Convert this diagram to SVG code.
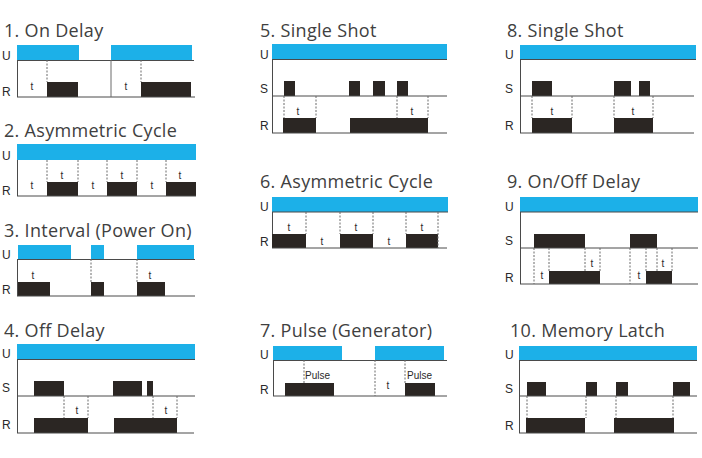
<svg xmlns="http://www.w3.org/2000/svg" width="702" height="458" viewBox="0 0 702 458">
<style>
.u{fill:#1cb0e8}
.b{fill:#2b2623}
.ax{stroke:#4a4a4a;stroke-width:1;fill:none}
.v{stroke:#6a6a6a;stroke-width:1;fill:none}
.d{stroke:#6a6a6a;stroke-width:1;stroke-dasharray:2 1.5;fill:none}
.ttl{font-family:"Open Sans","Noto Sans",sans-serif;font-size:18px;letter-spacing:0.3px;fill:#404040}
.lbl{font-family:"Liberation Sans",Arial,sans-serif;font-size:12px;fill:#2a2a2a}
.t{font-family:"Liberation Sans",Arial,sans-serif;font-size:10px;fill:#2a2a2a;text-anchor:middle}
.p{font-family:"Liberation Sans",Arial,sans-serif;font-size:10px;fill:#2a2a2a}
</style>
<rect width="702" height="458" fill="#fff"/>

<g id="p1">
<text class="ttl" x="4" y="37">1. On Delay</text>
<text class="lbl" x="2" y="60">U</text>
<text class="lbl" x="2" y="96">R</text>
<rect class="u" x="17" y="45" width="62" height="15"/>
<rect class="u" x="111" y="45" width="81" height="15"/>
<rect class="b" x="47" y="82" width="31" height="15"/>
<rect class="b" x="141" y="82" width="50" height="15"/>
<path class="ax" d="M17 60.5H194M17 97H195M17.5 60V97"/>
<path class="v" d="M111 60V97"/>
<path class="d" d="M47 60V82M141 60V82"/>
<text class="t" x="32" y="90">t</text>
<text class="t" x="126" y="90">t</text>
</g>

<g id="p2">
<text class="ttl" x="4" y="137">2. Asymmetric Cycle</text>
<text class="lbl" x="2" y="160">U</text>
<text class="lbl" x="2" y="195">R</text>
<rect class="u" x="17" y="144" width="179" height="16"/>
<rect class="b" x="47" y="182" width="31" height="14"/>
<rect class="b" x="107" y="182" width="30" height="14"/>
<rect class="b" x="166" y="182" width="30" height="14"/>
<path class="ax" d="M17 196H196M17.5 160V196"/>
<path class="d" d="M47 160V182M78 160V182M107 160V182M137 160V182M166 160V182"/>
<text class="t" x="32" y="189">t</text>
<text class="t" x="93" y="189">t</text>
<text class="t" x="152" y="189">t</text>
<text class="t" x="62" y="179">t</text>
<text class="t" x="122" y="179">t</text>
<text class="t" x="180" y="179">t</text>
</g>

<g id="p3">
<text class="ttl" x="4" y="237">3. Interval (Power On)</text>
<text class="lbl" x="2" y="259">U</text>
<text class="lbl" x="2" y="294">R</text>
<rect class="u" x="18" y="245" width="53" height="14"/>
<rect class="u" x="91" y="245" width="13" height="14"/>
<rect class="u" x="137" y="245" width="57" height="14"/>
<rect class="b" x="18" y="282" width="32" height="14"/>
<rect class="b" x="91" y="282" width="13" height="14"/>
<rect class="b" x="137" y="282" width="28" height="14"/>
<path class="ax" d="M17 259.5H195M17 296H195M17.5 259V296"/>
<path class="d" d="M91 259V282M137 259V282"/>
<text class="t" x="33" y="279">t</text>
<text class="t" x="150" y="279">t</text>
</g>

<g id="p4">
<text class="ttl" x="4" y="337">4. Off Delay</text>
<text class="lbl" x="2" y="358">U</text>
<text class="lbl" x="2" y="392">S</text>
<text class="lbl" x="2" y="429">R</text>
<rect class="u" x="17" y="344" width="178" height="15"/>
<rect class="b" x="34" y="381" width="30" height="15"/>
<rect class="b" x="113" y="381" width="29" height="15"/>
<rect class="b" x="147" y="381" width="6" height="15"/>
<rect class="b" x="34" y="418" width="54" height="15"/>
<rect class="b" x="114" y="418" width="63" height="15"/>
<path class="ax" d="M17 359.5H195M17 396H195M17 433H194M17.5 359V433"/>
<path class="d" d="M64 396V418M88 396V418M153 396V418M177 396V418"/>
<text class="t" x="77" y="414">t</text>
<text class="t" x="166" y="414">t</text>
</g>

<g id="p5">
<text class="ttl" x="260" y="37">5. Single Shot</text>
<text class="lbl" x="260" y="59">U</text>
<text class="lbl" x="260" y="93">S</text>
<text class="lbl" x="260" y="130">R</text>
<rect class="u" x="272" y="44" width="175" height="15"/>
<rect class="b" x="284" y="81" width="11" height="15"/>
<rect class="b" x="349" y="81" width="11" height="15"/>
<rect class="b" x="373" y="81" width="12" height="15"/>
<rect class="b" x="397" y="81" width="11" height="15"/>
<rect class="b" x="283" y="118" width="33" height="15"/>
<rect class="b" x="350" y="118" width="78" height="15"/>
<path class="ax" d="M272 59.5H447M272 96H447M272 133H447M272.5 59V133"/>
<path class="d" d="M284 96V118M316 96V118M397 96V118M428 96V118"/>
<text class="t" x="298" y="115">t</text>
<text class="t" x="412" y="115">t</text>
</g>

<g id="p6">
<text class="ttl" x="260" y="188">6. Asymmetric Cycle</text>
<text class="lbl" x="260" y="211">U</text>
<text class="lbl" x="260" y="246">R</text>
<rect class="u" x="272" y="197" width="176" height="15"/>
<rect class="b" x="272" y="234" width="34" height="14"/>
<rect class="b" x="340" y="234" width="33" height="14"/>
<rect class="b" x="406" y="234" width="32" height="14"/>
<path class="ax" d="M272 212H448M272 248H447M272.5 212V234"/>
<path class="d" d="M306 212V234M340 212V234M373 212V234M406 212V234M438 212V248"/>
<text class="t" x="289" y="231">t</text>
<text class="t" x="356" y="231">t</text>
<text class="t" x="422" y="231">t</text>
<text class="t" x="322" y="245">t</text>
<text class="t" x="389" y="245">t</text>
</g>

<g id="p7">
<text class="ttl" x="260" y="337">7. Pulse (Generator)</text>
<text class="lbl" x="260" y="359">U</text>
<text class="lbl" x="260" y="394">R</text>
<rect class="u" x="273" y="346" width="69" height="14"/>
<rect class="u" x="375" y="346" width="69" height="14"/>
<rect class="b" x="285" y="383" width="49" height="13"/>
<rect class="b" x="405" y="383" width="30" height="13"/>
<path class="ax" d="M273 360.5H447M273 396H447M273.5 360V396"/>
<path class="d" d="M304 360V383M375 360V396M405 360V383"/>
<text class="p" x="305" y="379">Pulse</text>
<text class="p" x="407" y="379">Pulse</text>
<text class="t" x="388" y="389">t</text>
</g>

<g id="p8">
<text class="ttl" x="507" y="37">8. Single Shot</text>
<text class="lbl" x="505" y="59">U</text>
<text class="lbl" x="505" y="93">S</text>
<text class="lbl" x="505" y="130">R</text>
<rect class="u" x="520" y="45" width="176" height="14"/>
<rect class="b" x="532" y="81" width="20" height="15"/>
<rect class="b" x="614" y="81" width="17" height="15"/>
<rect class="b" x="639" y="81" width="11" height="15"/>
<rect class="b" x="532" y="118" width="40" height="15"/>
<rect class="b" x="614" y="118" width="39" height="15"/>
<path class="ax" d="M520 59.5H696M520 96H694M520 133H694M520.5 59V133"/>
<path class="d" d="M532 96V118M572 96V118M614 96V118M653 96V118"/>
<text class="t" x="552" y="115">t</text>
<text class="t" x="633" y="115">t</text>
</g>

<g id="p9">
<text class="ttl" x="507" y="188">9. On/Off Delay</text>
<text class="lbl" x="505" y="211">U</text>
<text class="lbl" x="505" y="245">S</text>
<text class="lbl" x="505" y="282">R</text>
<rect class="u" x="520" y="197" width="178" height="15"/>
<rect class="b" x="534" y="234" width="51" height="14"/>
<rect class="b" x="630" y="234" width="27" height="14"/>
<rect class="b" x="549" y="271" width="51" height="13"/>
<rect class="b" x="646" y="271" width="26" height="13"/>
<path class="ax" d="M520 212H698M520 248H698M520 284H698M520.5 212V284"/>
<path class="d" d="M534 248V284M549 248V271M585 248V271M600 248V271M630 248V284M646 248V271M657 248V271M672 248V271"/>
<text class="t" x="542" y="279">t</text>
<text class="t" x="639" y="279">t</text>
<text class="t" x="592" y="267">t</text>
<text class="t" x="663" y="267">t</text>
</g>

<g id="p10">
<text class="ttl" x="510" y="337">10. Memory Latch</text>
<text class="lbl" x="505" y="359">U</text>
<text class="lbl" x="505" y="393">S</text>
<text class="lbl" x="505" y="430">R</text>
<rect class="u" x="519" y="346" width="178" height="14"/>
<rect class="b" x="527" y="382" width="19" height="14"/>
<rect class="b" x="586" y="382" width="11" height="14"/>
<rect class="b" x="616" y="382" width="12" height="14"/>
<rect class="b" x="673" y="382" width="17" height="14"/>
<rect class="b" x="526" y="418" width="59" height="15"/>
<rect class="b" x="614" y="418" width="60" height="15"/>
<path class="ax" d="M519 360.5H697M519 396H697M519 433H697M519.5 360V433"/>
<path class="d" d="M527 396V418M586 396V418M616 396V418M673 396V418"/>
</g>
</svg>
